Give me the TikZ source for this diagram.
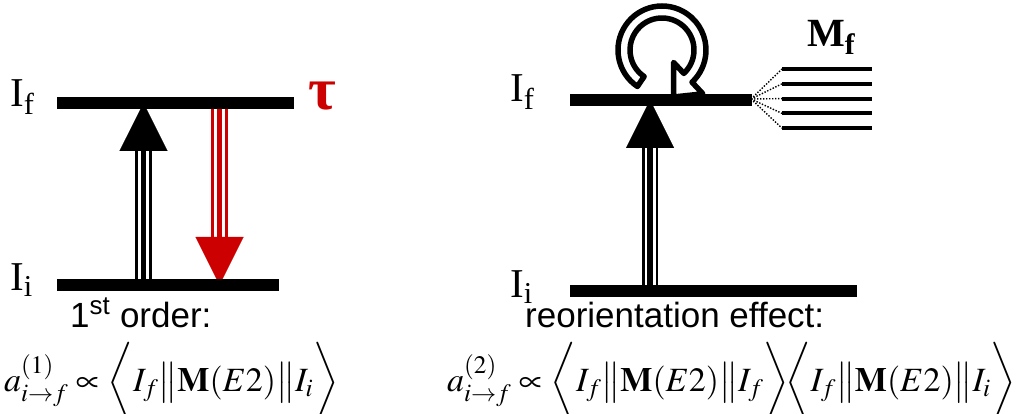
\documentclass[tikz,border=0pt]{standalone}
\usepackage{mathptmx}
\usepackage{fontspec}
\setmainfont{Liberation Serif}
\setsansfont{Liberation Sans}
\usepackage{tikz}
\usetikzlibrary{arrows.meta,positioning,calc}
\definecolor{DecayRed}{RGB}{204,0,0}

\begin{document}
\begin{tikzpicture}[
      x=1pt,y=1pt,
      level/.style={line width=12pt},
      sublevel/.style={line width=4pt},
      shaft/.style={draw=#1,line width=16.5pt,
                    postaction={draw=white,line width=11pt},
                    postaction={draw=#1,line width=5.5pt}},
      head/.style={-{Triangle[width=48pt,length=48pt]},line width=0.01pt,color=#1},
      fan/.style={line width=1.4pt,dash pattern=on 1.4pt off 1.6pt},
      reo/.style={draw=black,fill=white,line width=5.5pt,line join=round},
      lvlLabel/.style={inner sep=0pt,anchor=base west,font=\fontsize{41}{44}\selectfont},
      orderText/.style={inner sep=0pt,anchor=base west,font=\fontsize{35}{38}\sffamily},
      formula/.style={inner sep=0pt,anchor=base west,font=\fontsize{34}{40}\selectfont}
    ]
    \useasboundingbox (0,0) rectangle (1020,-414);

    % Left: first order excitation and decay
    \coordinate (exFoot) at (143.5,-285);
    \coordinate (exBase) at (143.5,-151);
    \coordinate (exTip) at (143.5,-103);
    \coordinate (deTop) at (219.5,-103);
    \coordinate (deBase) at (219.5,-237);
    \coordinate (deTip) at (219.5,-285);

    \draw[shaft=black] (exFoot) -- (exBase);
    \draw[head=black] (exBase) -- (exTip);
    \draw[shaft=DecayRed] (deTop) -- (deBase);
    \draw[head=DecayRed] (deBase) -- (deTip);

    \draw[level] (57,-103) -- (294,-103);
    \draw[level] (57,-285) -- (279,-285);

    \node(lf)[lvlLabel] at (10,-107) {I\textsubscript{f}};
    \node(li)[lvlLabel] at (10,-290) {I\textsubscript{i}};
    \node(tau)[text=DecayRed,inner sep=0pt,font=\fontsize{60}{60}\selectfont\bfseries] at (322,-96) {τ};

    \node(first)[orderText] at (70,-327) {1\textsuperscript{st} order:};
    \node(amp1)[formula] at (4,-391)
      {$a^{(1)}_{i\rightarrow f}\propto\biggl\langle I_f\big\|\mathbf{M}(E2)\big\|I_i\biggr\rangle$};

    % Right: reorientation loop on the final level
    \coordinate (rc) at (662,-50);
    \coordinate (reoTip) at (673.5,-97);
    \draw[reo] ($(rc)+(236:44)$) arc[start angle=236,end angle=-47,radius=44]
      -- ($(rc)+(-47:60)$) -- (reoTip) -- ($(rc)+(-47:17)$)
      -- ($(rc)+(-47:32)$) arc[start angle=-47,end angle=236,radius=32] -- cycle;

    \coordinate (rxFoot) at (650,-291);
    \coordinate (rxBase) at (650,-143);
    \coordinate (rxTip) at (650,-100);
    \draw[shaft=black] (rxFoot) -- (rxBase);
    \draw[head=black] (rxBase) -- (rxTip);

    \draw[level] (570,-100) -- (752,-100);
    \draw[level] (570,-291) -- (857,-291);

    % magnetic substates
    \coordinate (fanRoot) at (751,-99);
    \foreach \k in {1,...,5}{
      \coordinate (m\k) at (782,{-69-14.8*(\k-1)});
      \draw[fan] (fanRoot) -- (m\k);
      \draw[sublevel] (m\k) -- ++(90,0);
    }
    \node(mf)[inner sep=0pt,anchor=base west,font=\fontsize{40}{42}\bfseries] at (807,-47) {M\textsubscript{f}};

    \node(rf)[lvlLabel] at (510,-102) {I\textsubscript{f}};
    \node(ri)[lvlLabel] at (510,-297) {I\textsubscript{i}};

    \node(reorient)[orderText] at (525,-327) {reorientation effect:};
    \node(amp2)[formula] at (447,-391)
      {$a^{(2)}_{i\rightarrow f}\propto\biggl\langle I_f\big\|\mathbf{M}(E2)\big\|I_f\biggr\rangle\!\biggl\langle I_f\big\|\mathbf{M}(E2)\big\|I_i\biggr\rangle$};
  \end{tikzpicture}
\end{document}
